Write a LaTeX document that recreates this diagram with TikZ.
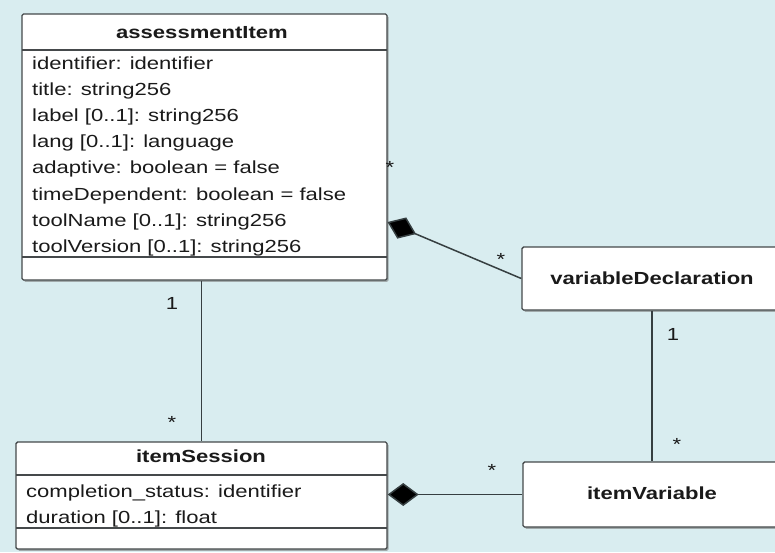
\documentclass[tikz,border=0pt]{standalone}
\usepackage{fontspec}
\setmainfont{Liberation Sans}[FakeStretch=1.26]
\usetikzlibrary{arrows.meta,shadows}
\definecolor{bgc}{HTML}{D9EDF0}
\definecolor{edge}{HTML}{45494B}
\definecolor{ink}{HTML}{1A1A1A}
\definecolor{wire}{HTML}{363F41}
\tikzset{
  cls/.style={draw=edge, line width=1.4pt, fill=white, rounded corners=1.5pt, inner sep=0pt,
    drop shadow={shadow xshift=1.6pt, shadow yshift=-1.8pt, opacity=0.55, fill=black!55}},
  sepline/.style={draw=edge, line width=1.3pt},
  txt/.style={inner sep=0pt, text=ink, font=\fontsize{17.5}{21}\selectfont},
  attr/.style={txt, anchor=base west},
  ttl/.style={txt, anchor=base, font=\fontsize{17.5}{21}\selectfont\bfseries},
  mult/.style={txt, anchor=base},
  conn/.style={draw=wire, line width=1.5pt},
  comp/.style={-{Diamond[length=31pt, width=23pt, fill=black]}}
}
\begin{document}
\begin{tikzpicture}[x=1pt, y=-1pt]
\useasboundingbox (0,0) rectangle (775,552);
\clip (0,0) rectangle (775,552);
\fill[bgc] (0,0) rectangle (775,552);

% assessmentItem
\node[cls, minimum width=365pt, minimum height=266pt] (aI) at (204.5,147) {};
\draw[sepline] (22,50) -- (387,50);
\draw[sepline] (22,257) -- (387,257);
\node[ttl] (aIt) at (202,38) {assessmentItem};
\node[attr] (a1) at (32,69) {identifier: identifier};
\node[attr] (a2) at (32,95) {title: string256};
\node[attr] (a3) at (32,121) {label [0..1]: string256};
\node[attr] (a4) at (32,147) {lang [0..1]: language};
\node[attr] (a5) at (32,173.5) {adaptive: boolean = false};
\node[attr] (a6) at (32,200) {timeDependent: boolean = false};
\node[attr] (a7) at (32,226) {toolName [0..1]: string256};
\node[attr] (a8) at (32,252) {toolVersion [0..1]: string256};

% itemSession
\node[cls, minimum width=371pt, minimum height=107pt] (iS) at (201.5,495.5) {};
\draw[sepline] (16,475) -- (387,475);
\draw[sepline] (16,528) -- (387,528);
\node[ttl] (iSt) at (201,462.5) {itemSession};
\node[attr] (s1) at (26,497) {completion\_status: identifier};
\node[attr] (s2) at (26,523) {duration [0..1]: float};

% variableDeclaration
\node[cls, minimum width=260pt, minimum height=63pt] (vD) at (652,278.5) {};
\node[ttl] (vDt) at (652,284) {variableDeclaration};

% itemVariable
\node[cls, minimum width=259pt, minimum height=65pt] (iV) at (652.5,494.5) {};
\node[ttl] (iVt) at (652,499.5) {itemVariable};

% connectors
\coordinate (dA) at (387.5,222);
\draw[conn] (aI.south -| iS.north) -- (iS.north);
\draw[conn] (vD.south) -- (vD.south |- iV.north);
\draw[conn, comp] (vD.west) -- (dA);
\draw[conn, comp] (iV.west) -- (iV.west -| iS.east);

% multiplicities
\node[mult] (m1) at (172,309.5) {1};
\node[mult] (m2) at (172,428) {*};
\node[mult] (m3) at (673,340) {1};
\node[mult] (m4) at (677,450) {*};
\node[mult] (m5) at (492,476) {*};
\node[mult] (m6) at (501,265) {*};
\node[mult] (m7) at (390,173) {*};
\end{tikzpicture}
\end{document}
